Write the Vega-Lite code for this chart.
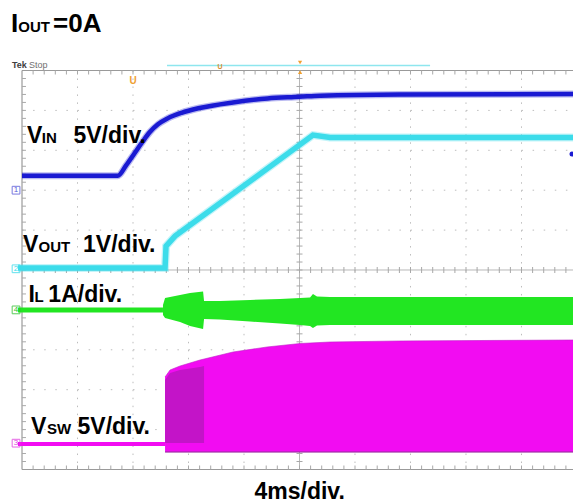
{
  "$schema": "https://vega.github.io/schema/vega-lite/v6.json",
  "width": 573,
  "height": 504,
  "autosize": {"type": "none"},
  "padding": 0,
  "background": "white",
  "config": {"view": {"stroke": null}, "text": {"font": "Liberation Sans"}, "axis": {"disable": true}},
  "data": {"values": [{}]},
  "datasets": {
    "gridx": [{"t": -16}, {"t": -12}, {"t": -8}, {"t": -4}, {"t": 4}, {"t": 8}, {"t": 12}, {"t": 16}],
    "gridy": [{"y": -4}, {"y": -3}, {"y": -2}, {"y": -1}, {"y": 1}, {"y": 2}, {"y": 3}, {"y": 4}],
    "xt": [
      {"t": -19.2}, {"t": -18.4}, {"t": -17.6}, {"t": -16.8}, {"t": -16}, {"t": -15.2}, {"t": -14.4}, {"t": -13.6}, {"t": -12.8}, {"t": -12},
      {"t": -11.2}, {"t": -10.4}, {"t": -9.6}, {"t": -8.8}, {"t": -8}, {"t": -7.2}, {"t": -6.4}, {"t": -5.6}, {"t": -4.8}, {"t": -4},
      {"t": -3.2}, {"t": -2.4}, {"t": -1.6}, {"t": -0.8}, {"t": 0}, {"t": 0.8}, {"t": 1.6}, {"t": 2.4}, {"t": 3.2}, {"t": 4},
      {"t": 4.8}, {"t": 5.6}, {"t": 6.4}, {"t": 7.2}, {"t": 8}, {"t": 8.8}, {"t": 9.6}, {"t": 10.4}, {"t": 11.2}, {"t": 12},
      {"t": 12.8}, {"t": 13.6}, {"t": 14.4}, {"t": 15.2}, {"t": 16}, {"t": 16.8}, {"t": 17.6}, {"t": 18.4}, {"t": 19.2}
    ],
    "yt": [
      {"y": -4.8}, {"y": -4.6}, {"y": -4.4}, {"y": -4.2}, {"y": -4}, {"y": -3.8}, {"y": -3.6}, {"y": -3.4}, {"y": -3.2}, {"y": -3},
      {"y": -2.8}, {"y": -2.6}, {"y": -2.4}, {"y": -2.2}, {"y": -2}, {"y": -1.8}, {"y": -1.6}, {"y": -1.4}, {"y": -1.2}, {"y": -1},
      {"y": -0.8}, {"y": -0.6}, {"y": -0.4}, {"y": -0.2}, {"y": 0}, {"y": 0.2}, {"y": 0.4}, {"y": 0.6}, {"y": 0.8}, {"y": 1},
      {"y": 1.2}, {"y": 1.4}, {"y": 1.6}, {"y": 1.8}, {"y": 2}, {"y": 2.2}, {"y": 2.4}, {"y": 2.6}, {"y": 2.8}, {"y": 3},
      {"y": 3.2}, {"y": 3.4}, {"y": 3.6}, {"y": 3.8}, {"y": 4}, {"y": 4.2}, {"y": 4.4}, {"y": 4.6}, {"y": 4.8}
    ],
    "vin": [
      {"t": -20.0, "y": 2.36}, {"t": -13.1, "y": 2.36}, {"t": -12.5, "y": 2.62}, {"t": -11.9, "y": 2.92},
      {"t": -11.3, "y": 3.22}, {"t": -10.8, "y": 3.45}, {"t": -10.2, "y": 3.65}, {"t": -9.5, "y": 3.8},
      {"t": -8.5, "y": 3.94}, {"t": -7.2, "y": 4.06}, {"t": -4.8, "y": 4.2}, {"t": -2.3, "y": 4.3},
      {"t": 0.0, "y": 4.34}, {"t": 1.5, "y": 4.37}, {"t": 7.2, "y": 4.4}, {"t": 19.8, "y": 4.41}
    ],
    "vout": [
      {"t": -20.29, "y": 0.05}, {"t": -9.69, "y": 0.05}, {"t": -9.62, "y": 0.6}, {"t": -8.97, "y": 0.85},
      {"t": 0.97, "y": 3.38}, {"t": 2.2, "y": 3.32}, {"t": 19.8, "y": 3.32}
    ],
    "il_flat": [{"t": -20.29, "y": -1.0}, {"t": -9.84, "y": -1.0}],
    "il_band": [
      {"t": -9.84, "y": -0.877, "y2": -1.128}, {"t": -9.69, "y": -0.702, "y2": -1.203},
      {"t": -8.61, "y": -0.627, "y2": -1.303}, {"t": -7.89, "y": -0.576, "y2": -1.404},
      {"t": -6.95, "y": -0.539, "y2": -1.479}, {"t": -6.88, "y": -0.777, "y2": -1.228},
      {"t": -5.73, "y": -0.777, "y2": -1.241}, {"t": -3.57, "y": -0.752, "y2": -1.291},
      {"t": -1.41, "y": -0.727, "y2": -1.341}, {"t": 0.04, "y": -0.702, "y2": -1.378},
      {"t": 0.76, "y": -0.689, "y2": -1.404}, {"t": 0.97, "y": -0.602, "y2": -1.454},
      {"t": 1.26, "y": -0.664, "y2": -1.391}, {"t": 2.2, "y": -0.677, "y2": -1.378},
      {"t": 19.8, "y": -0.677, "y2": -1.378}
    ],
    "vsw_flat": [{"t": -20.29, "y": -4.36}, {"t": -9.69, "y": -4.36}],
    "vsw_band": [
      {"t": -9.69, "y": -2.682, "y2": -4.56}, {"t": -9.33, "y": -2.506, "y2": -4.56},
      {"t": -8.61, "y": -2.406, "y2": -4.56}, {"t": -7.17, "y": -2.256, "y2": -4.56},
      {"t": -4.79, "y": -2.055, "y2": -4.56}, {"t": -2.34, "y": -1.93, "y2": -4.56},
      {"t": 0.04, "y": -1.842, "y2": -4.56}, {"t": 2.2, "y": -1.805, "y2": -4.56},
      {"t": 7.24, "y": -1.779, "y2": -4.56}, {"t": 19.8, "y": -1.754, "y2": -4.56}
    ],
    "vsw_dark": [
      {"t": -9.69, "y": -2.757, "y2": -4.336}, {"t": -9.33, "y": -2.581, "y2": -4.336},
      {"t": -8.61, "y": -2.506, "y2": -4.336}, {"t": -7.17, "y": -2.431, "y2": -4.336},
      {"t": -6.88, "y": -2.406, "y2": -4.336}
    ],
    "chan": [
      {"t": -20.43, "y": 2.0, "ch": "1"}, {"t": -20.43, "y": 0.03, "ch": "2"},
      {"t": -20.43, "y": -4.34, "ch": "3"}, {"t": -20.43, "y": -1.0, "ch": "4"}
    ]
  },
  "layer": [
    {"data": {"name": "gridx"}, "mark": {"type": "rule", "color": "#bdbdbd", "strokeWidth": 1, "strokeDash": [1.5, 6.48]},
     "encoding": {
       "x": {"field": "t", "type": "quantitative", "scale": {"domain": [-21.586, 19.712], "nice": false, "zero": false}},
       "y": {"datum": 5, "type": "quantitative"}, "y2": {"datum": -5}}},
    {"data": {"name": "gridy"}, "mark": {"type": "rule", "color": "#bdbdbd", "strokeWidth": 1, "strokeDash": [1.5, 9.6]},
     "encoding": {
       "y": {"field": "y", "type": "quantitative", "scale": {"domain": [-5.865, 6.767], "nice": false, "zero": false}},
       "x": {"datum": -20, "type": "quantitative"}, "x2": {"datum": 20}}},
    {"mark": {"type": "rule", "color": "#b8b8b8", "strokeWidth": 1},
     "encoding": {"x": {"datum": 0, "type": "quantitative"}, "y": {"datum": 5, "type": "quantitative"}, "y2": {"datum": -5}}},
    {"mark": {"type": "rule", "color": "#b8b8b8", "strokeWidth": 1},
     "encoding": {"y": {"datum": 0, "type": "quantitative"}, "x": {"datum": -20, "type": "quantitative"}, "x2": {"datum": 20}}},
    {"mark": {"type": "rule", "color": "#9a9a9a", "strokeWidth": 1.2},
     "encoding": {"x": {"datum": -20, "type": "quantitative"}, "y": {"datum": 5, "type": "quantitative"}, "y2": {"datum": -5}}},
    {"mark": {"type": "rule", "color": "#9a9a9a", "strokeWidth": 1.2},
     "encoding": {"y": {"datum": 5, "type": "quantitative"}, "x": {"datum": -20, "type": "quantitative"}, "x2": {"datum": 20}}},
    {"mark": {"type": "rule", "color": "#9a9a9a", "strokeWidth": 1.2},
     "encoding": {"y": {"datum": -5, "type": "quantitative"}, "x": {"datum": -20, "type": "quantitative"}, "x2": {"datum": 20}}},
    {"data": {"name": "xt"}, "mark": {"type": "tick", "orient": "vertical", "size": 6, "thickness": 1, "color": "#a8a8a8", "opacity": 1},
     "encoding": {"x": {"field": "t", "type": "quantitative"}, "y": {"datum": 0, "type": "quantitative"}}},
    {"data": {"name": "xt"}, "mark": {"type": "tick", "orient": "vertical", "size": 4, "thickness": 1, "color": "#a8a8a8", "opacity": 1},
     "encoding": {"x": {"field": "t", "type": "quantitative"}, "y": {"datum": 4.95, "type": "quantitative"}}},
    {"data": {"name": "xt"}, "mark": {"type": "tick", "orient": "vertical", "size": 4, "thickness": 1, "color": "#a8a8a8", "opacity": 1},
     "encoding": {"x": {"field": "t", "type": "quantitative"}, "y": {"datum": -4.95, "type": "quantitative"}}},
    {"data": {"name": "yt"}, "mark": {"type": "tick", "orient": "horizontal", "size": 6, "thickness": 1, "color": "#a8a8a8", "opacity": 1},
     "encoding": {"y": {"field": "y", "type": "quantitative"}, "x": {"datum": 0, "type": "quantitative"}}},
    {"data": {"name": "yt"}, "mark": {"type": "tick", "orient": "horizontal", "size": 4, "thickness": 1, "color": "#a8a8a8", "opacity": 1},
     "encoding": {"y": {"field": "y", "type": "quantitative"}, "x": {"datum": -19.86, "type": "quantitative"}}},

    {"data": {"name": "vsw_band"}, "mark": {"type": "area", "color": "#f20cf2", "opacity": 1},
     "encoding": {"x": {"field": "t", "type": "quantitative"}, "y": {"field": "y", "type": "quantitative"}, "y2": {"field": "y2"}}},
    {"data": {"name": "vsw_dark"}, "mark": {"type": "area", "color": "#c314c8", "opacity": 1},
     "encoding": {"x": {"field": "t", "type": "quantitative"}, "y": {"field": "y", "type": "quantitative"}, "y2": {"field": "y2"}}},
    {"data": {"name": "vsw_band"}, "mark": {"type": "line", "color": "#a02ca6", "strokeWidth": 1.5, "opacity": 0.8},
     "encoding": {"x": {"field": "t", "type": "quantitative"}, "y": {"field": "y2", "type": "quantitative"}}},
    {"data": {"name": "vsw_band"}, "mark": {"type": "line", "color": "#c020c8", "strokeWidth": 1, "opacity": 0.6},
     "encoding": {"x": {"field": "t", "type": "quantitative"}, "y": {"field": "y", "type": "quantitative"}}},
    {"data": {"name": "vsw_flat"}, "mark": {"type": "line", "color": "#f20cf2", "strokeWidth": 4},
     "encoding": {"x": {"field": "t", "type": "quantitative"}, "y": {"field": "y", "type": "quantitative"}}},
    {"data": {"name": "il_band"}, "mark": {"type": "area", "color": "#22e622", "opacity": 1},
     "encoding": {"x": {"field": "t", "type": "quantitative"}, "y": {"field": "y", "type": "quantitative"}, "y2": {"field": "y2"}}},
    {"data": {"name": "il_flat"}, "mark": {"type": "line", "color": "#22e622", "strokeWidth": 5},
     "encoding": {"x": {"field": "t", "type": "quantitative"}, "y": {"field": "y", "type": "quantitative"}}},
    {"data": {"name": "vout"}, "mark": {"type": "line", "color": "#3cdcea", "strokeWidth": 8, "opacity": 0.3},
     "encoding": {"x": {"field": "t", "type": "quantitative"}, "y": {"field": "y", "type": "quantitative"}}},
    {"data": {"name": "vout"}, "mark": {"type": "line", "color": "#3cdcea", "strokeWidth": 5.5},
     "encoding": {"x": {"field": "t", "type": "quantitative"}, "y": {"field": "y", "type": "quantitative"}}},
    {"data": {"name": "vin"}, "mark": {"type": "line", "color": "#1a1ad2", "strokeWidth": 7, "opacity": 0.3, "interpolate": "monotone"},
     "encoding": {"x": {"field": "t", "type": "quantitative"}, "y": {"field": "y", "type": "quantitative"}}},
    {"data": {"name": "vin"}, "mark": {"type": "line", "color": "#1a1ad2", "strokeWidth": 4.5, "interpolate": "monotone"},
     "encoding": {"x": {"field": "t", "type": "quantitative"}, "y": {"field": "y", "type": "quantitative"}}},

    {"data": {"name": "chan"}, "mark": {"type": "point", "shape": "square", "filled": false, "size": 60, "strokeWidth": 1, "opacity": 0.8},
     "encoding": {"x": {"field": "t", "type": "quantitative"}, "y": {"field": "y", "type": "quantitative"},
       "color": {"field": "ch", "type": "nominal", "scale": {"domain": ["1", "2", "3", "4"], "range": ["#5a5ad8", "#3cdcea", "#e040e0", "#30c030"]}, "legend": null}}},
    {"data": {"name": "chan"}, "mark": {"type": "text", "fontSize": 8, "baseline": "middle", "align": "center"},
     "encoding": {"x": {"field": "t", "type": "quantitative"}, "y": {"field": "y", "type": "quantitative"},
       "text": {"field": "ch"}, "color": {"field": "ch", "type": "nominal", "legend": null}}},

    {"mark": {"type": "point", "shape": "circle", "filled": true, "size": 25, "color": "#1a1ad2", "opacity": 1},
     "encoding": {"x": {"datum": 19.64, "type": "quantitative"}, "y": {"datum": 2.907, "type": "quantitative"}}},
    {"mark": {"type": "rule", "color": "#8ee6ee", "strokeWidth": 1.5},
     "encoding": {"x": {"datum": -9.55, "type": "quantitative"}, "x2": {"datum": 9.41}, "y": {"datum": 5.125, "type": "quantitative"}}},
    {"mark": {"type": "point", "shape": "triangle-down", "filled": true, "size": 18, "color": "#f0a030", "opacity": 1},
     "encoding": {"x": {"datum": 0.04, "type": "quantitative"}, "y": {"datum": 5.2, "type": "quantitative"}}},
    {"mark": {"type": "point", "shape": "triangle-up", "filled": true, "size": 18, "color": "#f0a030", "opacity": 1},
     "encoding": {"x": {"datum": 0.04, "type": "quantitative"}, "y": {"datum": 4.96, "type": "quantitative"}}},
    {"mark": {"type": "text", "text": "U", "fontSize": 10, "fontWeight": "bold", "color": "#eea030", "align": "center", "baseline": "middle"},
     "encoding": {"x": {"datum": -11.99, "type": "quantitative"}, "y": {"datum": 4.737, "type": "quantitative"}}},
    {"mark": {"type": "text", "text": "U", "fontSize": 7, "fontWeight": "bold", "color": "#d89030", "align": "center", "baseline": "middle"},
     "encoding": {"x": {"datum": -5.73, "type": "quantitative"}, "y": {"datum": 5.1, "type": "quantitative"}}},
    {"mark": {"type": "text", "text": "Tek", "fontSize": 9, "fontWeight": "bold", "color": "#404040", "align": "left", "baseline": "alphabetic"},
     "encoding": {"x": {"datum": -20.72, "type": "quantitative"}, "y": {"datum": 5.063, "type": "quantitative"}}},
    {"mark": {"type": "text", "text": "Stop", "fontSize": 9, "color": "#707070", "align": "left", "baseline": "alphabetic"},
     "encoding": {"x": {"datum": -19.5, "type": "quantitative"}, "y": {"datum": 5.063, "type": "quantitative"}}},

    {"mark": {"type": "text", "text": "I", "fontSize": 26, "fontWeight": "bold", "color": "black", "align": "left", "baseline": "alphabetic"},
     "encoding": {"x": {"datum": -20.79, "type": "quantitative"}, "y": {"datum": 5.972, "type": "quantitative"}}},
    {"mark": {"type": "text", "text": "OUT", "fontSize": 15, "fontWeight": "bold", "color": "black", "align": "left", "baseline": "alphabetic"},
     "encoding": {"x": {"datum": -20.27, "type": "quantitative"}, "y": {"datum": 5.972, "type": "quantitative"}}},
    {"mark": {"type": "text", "text": "=0A", "fontSize": 26, "fontWeight": "bold", "color": "black", "align": "left", "baseline": "alphabetic"},
     "encoding": {"x": {"datum": -17.76, "type": "quantitative"}, "y": {"datum": 5.972, "type": "quantitative"}}},

    {"mark": {"type": "text", "text": "V", "fontSize": 23, "fontWeight": "bold", "color": "black", "align": "left", "baseline": "alphabetic"},
     "encoding": {"x": {"datum": -19.64, "type": "quantitative"}, "y": {"datum": 3.183, "type": "quantitative"}}},
    {"mark": {"type": "text", "text": "IN", "fontSize": 15, "fontWeight": "bold", "color": "black", "align": "left", "baseline": "alphabetic"},
     "encoding": {"x": {"datum": -18.57, "type": "quantitative"}, "y": {"datum": 3.183, "type": "quantitative"}}},
    {"mark": {"type": "text", "text": "5V/div.", "fontSize": 23, "fontWeight": "bold", "color": "black", "align": "left", "baseline": "alphabetic"},
     "encoding": {"x": {"datum": -16.29, "type": "quantitative"}, "y": {"datum": 3.183, "type": "quantitative"}}},

    {"mark": {"type": "text", "text": "V", "fontSize": 23, "fontWeight": "bold", "color": "black", "align": "left", "baseline": "alphabetic"},
     "encoding": {"x": {"datum": -19.93, "type": "quantitative"}, "y": {"datum": 0.451, "type": "quantitative"}}},
    {"mark": {"type": "text", "text": "OUT", "fontSize": 15, "fontWeight": "bold", "color": "black", "align": "left", "baseline": "alphabetic"},
     "encoding": {"x": {"datum": -18.81, "type": "quantitative"}, "y": {"datum": 0.451, "type": "quantitative"}}},
    {"mark": {"type": "text", "text": "1V/div.", "fontSize": 23, "fontWeight": "bold", "color": "black", "align": "left", "baseline": "alphabetic"},
     "encoding": {"x": {"datum": -15.6, "type": "quantitative"}, "y": {"datum": 0.451, "type": "quantitative"}}},

    {"mark": {"type": "text", "text": "I", "fontSize": 23, "fontWeight": "bold", "color": "black", "align": "left", "baseline": "alphabetic"},
     "encoding": {"x": {"datum": -19.53, "type": "quantitative"}, "y": {"datum": -0.794, "type": "quantitative"}}},
    {"mark": {"type": "text", "text": "L", "fontSize": 15, "fontWeight": "bold", "color": "black", "align": "left", "baseline": "alphabetic"},
     "encoding": {"x": {"datum": -19.1, "type": "quantitative"}, "y": {"datum": -0.794, "type": "quantitative"}}},
    {"mark": {"type": "text", "text": "1A/div.", "fontSize": 23, "fontWeight": "bold", "color": "black", "align": "left", "baseline": "alphabetic"},
     "encoding": {"x": {"datum": -18.1, "type": "quantitative"}, "y": {"datum": -0.794, "type": "quantitative"}}},

    {"mark": {"type": "text", "text": "V", "fontSize": 23, "fontWeight": "bold", "color": "black", "align": "left", "baseline": "alphabetic"},
     "encoding": {"x": {"datum": -19.35, "type": "quantitative"}, "y": {"datum": -4.118, "type": "quantitative"}}},
    {"mark": {"type": "text", "text": "SW", "fontSize": 15, "fontWeight": "bold", "color": "black", "align": "left", "baseline": "alphabetic"},
     "encoding": {"x": {"datum": -18.2, "type": "quantitative"}, "y": {"datum": -4.118, "type": "quantitative"}}},
    {"mark": {"type": "text", "text": "5V/div.", "fontSize": 23, "fontWeight": "bold", "color": "black", "align": "left", "baseline": "alphabetic"},
     "encoding": {"x": {"datum": -16.0, "type": "quantitative"}, "y": {"datum": -4.118, "type": "quantitative"}}},

    {"mark": {"type": "text", "text": "4ms/div.", "fontSize": 23, "fontWeight": "bold", "color": "black", "align": "left", "baseline": "alphabetic"},
     "encoding": {"x": {"datum": -3.243, "type": "quantitative"}, "y": {"datum": -5.74, "type": "quantitative"}}}
  ]
}
